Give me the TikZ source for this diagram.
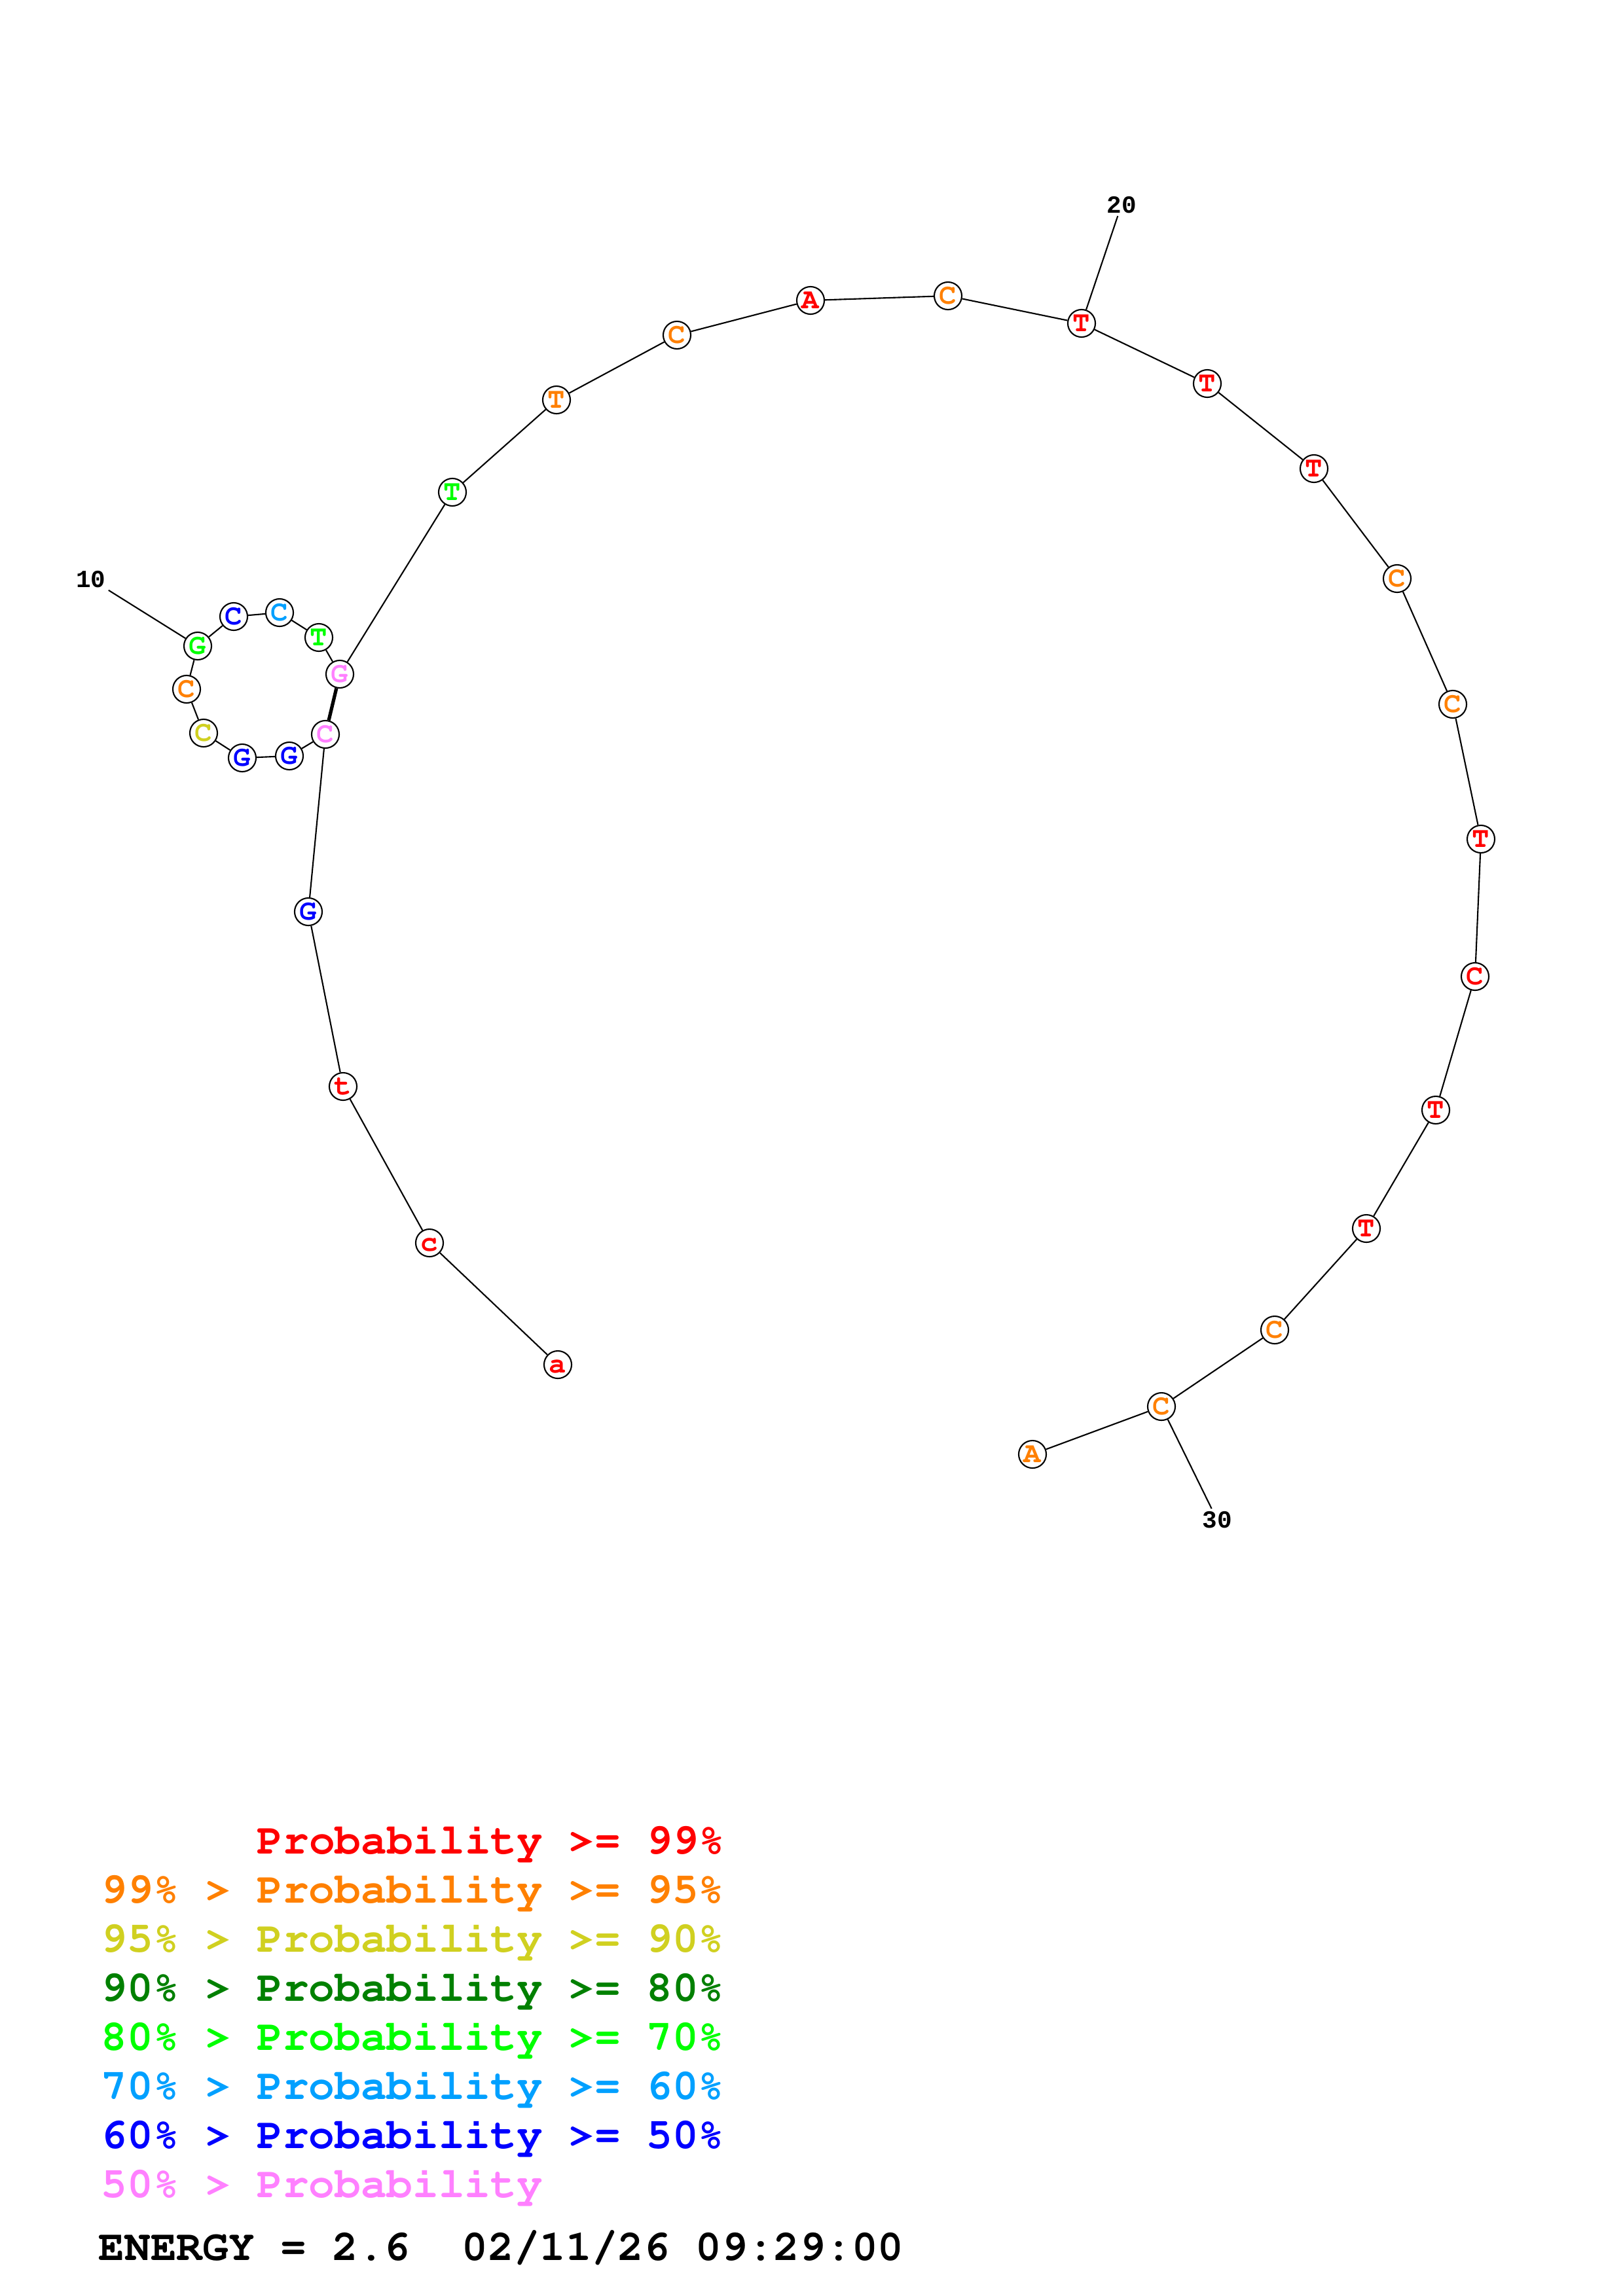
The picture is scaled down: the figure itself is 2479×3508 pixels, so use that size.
\documentclass[tikz,border=0pt]{standalone}
\usepackage[T1]{fontenc}
\usepackage{fontspec}
\newfontfamily\cour{Liberation Mono}
\newcommand\courb{\fontencoding{T1}\fontfamily{pcr}\fontseries{b}\fontshape{n}\selectfont}
\definecolor{pr}{RGB}{255,0,0}
\definecolor{po}{RGB}{255,128,0}
\definecolor{py}{RGB}{208,208,32}
\definecolor{pdg}{RGB}{0,128,0}
\definecolor{plg}{RGB}{0,255,0}
\definecolor{plb}{RGB}{0,160,255}
\definecolor{pb}{RGB}{0,0,255}
\definecolor{pp}{RGB}{255,128,255}
\begin{document}
\begin{tikzpicture}[x=0.01cm,y=-0.01cm,
  nt/.style={circle,draw=black,fill=white,line width=0.6pt,minimum size=0.42cm,inner sep=0pt,
    text height=7pt,text depth=0pt,font=\courb\fontsize{12.5}{13}\selectfont},
  bond/.style={line width=0.6pt},
  pairbond/.style={line width=1.5pt},
  num/.style={inner sep=1pt,font=\cour\bfseries\fontsize{10.7}{12}\selectfont},
  leg/.style={anchor=base west,inner sep=0pt,font=\courb\fontsize{18.8}{22}\selectfont}]
\useasboundingbox[fill=white] (0,0) rectangle (2479,3508);
% nucleotides
\node[nt,text=pr]  (n1)  at (852,2085) {a};
\node[nt,text=pr]  (n2)  at (656,1899) {c};
\node[nt,text=pr]  (n3)  at (524,1660) {t};
\node[nt,text=pb]  (n4)  at (471,1393) {G};
\node[nt,text=pp]  (n5)  at (497,1122) {C};
\node[nt,text=pb]  (n6)  at (442,1155) {G};
\node[nt,text=pb]  (n7)  at (370,1158) {G};
\node[nt,text=py]  (n8)  at (311,1120) {C};
\node[nt,text=po]  (n9)  at (285,1053) {C};
\node[nt,text=plg] (n10) at (302,987) {G};
\node[nt,text=pb]  (n11) at (357,942) {C};
\node[nt,text=plb] (n12) at (427,936) {C};
\node[nt,text=plg] (n13) at (487,974) {T};
\node[nt,text=pp]  (n14) at (519,1030) {G};
\node[nt,text=plg] (n15) at (691,752) {T};
\node[nt,text=po]  (n16) at (850,611) {T};
\node[nt,text=po]  (n17) at (1034,512) {C};
\node[nt,text=pr]  (n18) at (1238,459) {A};
\node[nt,text=po]  (n19) at (1448,452) {C};
\node[nt,text=pr]  (n20) at (1652,494) {T};
\node[nt,text=pr]  (n21) at (1844,586) {T};
\node[nt,text=pr]  (n22) at (2007,716) {T};
\node[nt,text=po]  (n23) at (2134,884) {C};
\node[nt,text=po]  (n24) at (2219,1076) {C};
\node[nt,text=pr]  (n25) at (2262,1282) {T};
\node[nt,text=pr]  (n26) at (2253,1492) {C};
\node[nt,text=pr]  (n27) at (2193,1696) {T};
\node[nt,text=pr]  (n28) at (2087,1877) {T};
\node[nt,text=po]  (n29) at (1947,2032) {C};
\node[nt,text=po]  (n30) at (1774,2149) {C};
\node[nt,text=po]  (n31) at (1577,2222) {A};
% backbone
\draw[bond] (n1)--(n2)--(n3)--(n4)--(n5)--(n6)--(n7)--(n8)--(n9)--(n10)--(n11)--(n12)--(n13)--(n14)--(n15)--(n16)--(n17)--(n18)--(n19)--(n20)--(n21)--(n22)--(n23)--(n24)--(n25)--(n26)--(n27)--(n28)--(n29)--(n30)--(n31);
% base pair
\draw[pairbond] (n5)--(n14);
% numbering
\node[num] (l10) at (139,885) {10};
\node[num] (l20) at (1713,313) {20};
\node[num] (l30) at (1859,2322) {30};
\draw[bond] (l10)--(n10);
\draw[bond] (l20)--(n20);
\draw[bond] (l30)--(n30);
% legend
\node[leg,text=pr]  (g1) at (154,2832) {\hphantom{99\%~>~}Probability >= 99\%};
\node[leg,text=po]  (g2) at (154,2907) {99\% > Probability >= 95\%};
\node[leg,text=py]  (g3) at (154,2982) {95\% > Probability >= 90\%};
\node[leg,text=pdg] (g4) at (154,3057) {90\% > Probability >= 80\%};
\node[leg,text=plg] (g5) at (154,3132) {80\% > Probability >= 70\%};
\node[leg,text=plb] (g6) at (154,3207) {70\% > Probability >= 60\%};
\node[leg,text=pb]  (g7) at (154,3282) {60\% > Probability >= 50\%};
\node[leg,text=pp]  (g8) at (154,3357) {50\% > Probability};
\node[leg,text=black] (g9) at (150,3453) {ENERGY = 2.6~~02/11/26 09:29:00};
\end{tikzpicture}
\end{document}
